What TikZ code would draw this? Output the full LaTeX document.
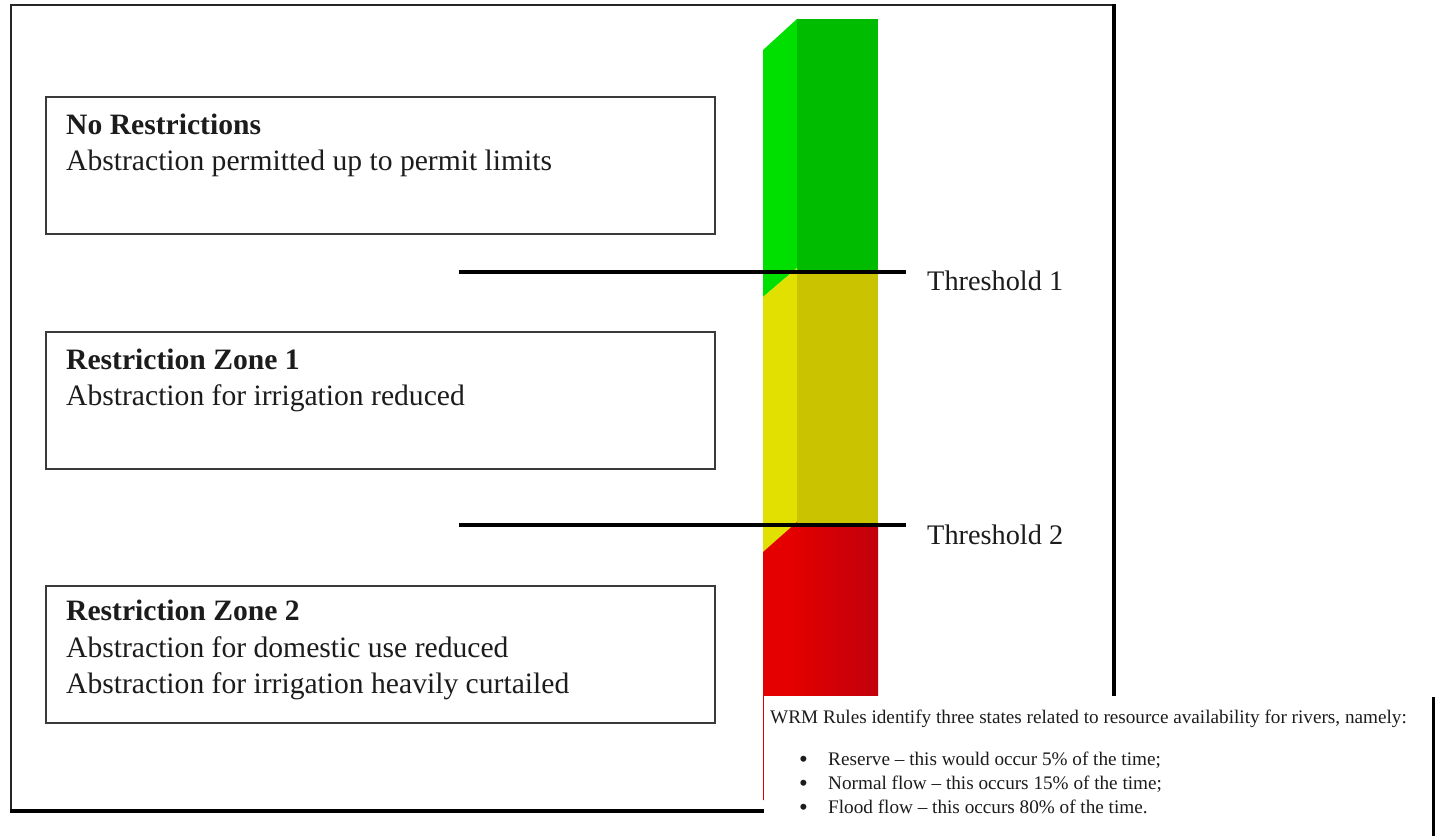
\documentclass[tikz,border=0pt]{standalone}
\usepackage{fontspec}
\setmainfont{Liberation Serif}
\definecolor{ink}{HTML}{1C1C1C}
\definecolor{boxline}{HTML}{3A3A3A}
\definecolor{greenside}{HTML}{00E000}
\definecolor{greenfront}{HTML}{00BC00}
\definecolor{yellowside}{HTML}{E2E000}
\definecolor{yellowfront}{HTML}{C9C300}
\definecolor{redside}{HTML}{E40000}
\definecolor{redfrontA}{HTML}{E00000}
\definecolor{redfrontB}{HTML}{C2000C}
\begin{document}
\begin{tikzpicture}[x=1pt,y=-1pt,
  zonebox/.style={draw=boxline, line width=2pt, fill=white, rectangle,
    inner sep=0pt, anchor=north west, minimum width=669pt, minimum height=137pt},
  zonetext/.style={anchor=base west, inner sep=0pt, text=ink,
    font=\fontsize{29.6}{35}\selectfont},
  zonetitle/.style={zonetext, font=\fontsize{29.6}{35}\selectfont\bfseries},
  thresholdline/.style={line width=4.5pt, black},
  thresholdlabel/.style={anchor=base west, inner sep=0pt, text=ink,
    font=\fontsize{28.3}{34}\selectfont},
  notetext/.style={anchor=base west, inner sep=0pt, text=ink,
    font=\fontsize{19.2}{23}\selectfont},
  notebullet/.style={anchor=base west, inner sep=0pt, text=ink,
    font=\fontsize{25}{25}\selectfont},
]
\useasboundingbox (0,0) rectangle (1437,836);
\fill[white] (0,0) rectangle (1437,836);

% outer frame: thin top/left, heavy right/bottom
\draw[line width=2pt, black!85] (11,811) -- (11,5) -- (1115,5);
\draw[line width=4pt, black] (1114,4) -- (1114,810.5) -- (10,810.5);

% zone boxes
\node[zonebox] (nores) at (45,96) {};
\node[zonebox] (zone1) at (45,331) {};
\node[zonebox] (zone2) at (45,585) {};

\node[zonetitle] (noresT) at (66,134) {No Restrictions};
\node[zonetext]  (noresA) at (66,170) {Abstraction permitted up to permit limits};

\node[zonetitle] (zone1T) at (66,369) {Restriction Zone 1};
\node[zonetext]  (zone1A) at (66,405) {Abstraction for irrigation reduced};

\node[zonetitle] (zone2T) at (66,620) {Restriction Zone 2};
\node[zonetext]  (zone2A) at (66,657) {Abstraction for domestic use reduced};
\node[zonetext]  (zone2B) at (66,693) {Abstraction for irrigation heavily curtailed};

% level bar: bevelled side face on the left, front face on the right
\fill[greenside]  (763,50) -- (797,19) -- (797,268) -- (763,297) -- cycle;
\fill[greenfront] (797,19) rectangle (878,272);
\fill[yellowside] (763,297) -- (797,268) -- (797,522) -- (763,552) -- cycle;
\fill[yellowfront] (797,272) rectangle (878,525);
\fill[redside]    (763,552) -- (797,522) -- (797,800) -- (763,800) -- cycle;
\shade[left color=redfrontA, right color=redfrontB] (797,525) rectangle (878,800);

% thresholds
\coordinate (t1a) at (459,272);
\coordinate (t1b) at (906,272);
\coordinate (t2a) at (459,525);
\coordinate (t2b) at (906,525);
\draw[thresholdline] (t1a) -- (t1b);
\draw[thresholdline] (t2a) -- (t2b);
\node[thresholdlabel] (t1lab) at (927,290) {Threshold 1};
\node[thresholdlabel] (t2lab) at (927,544) {Threshold 2};

% note panel
\fill[white] (764.3,696) rectangle (1437,836);
\draw[line width=3.5pt, black] (1433.5,697) -- (1433.5,836);
\node[notetext] (note) at (770,723)
  {WRM Rules identify three states related to resource availability for rivers, namely:};
\node[notebullet] (b1) at (799,767) {\textbullet};
\node[notebullet] (b2) at (799,791) {\textbullet};
\node[notebullet] (b3) at (799,815) {\textbullet};
\node[notetext] (n1) at (828,765) {Reserve -- this would occur 5\% of the time;};
\node[notetext] (n2) at (828,789) {Normal flow -- this occurs 15\% of the time;};
\node[notetext] (n3) at (828,813) {Flood flow -- this occurs 80\% of the time.};
\end{tikzpicture}
\end{document}
